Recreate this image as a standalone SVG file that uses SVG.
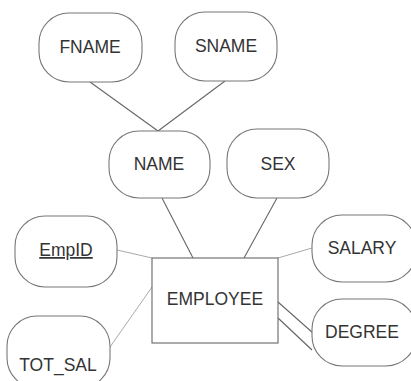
<svg xmlns="http://www.w3.org/2000/svg" width="411" height="381" viewBox="0 0 411 381">
<style>
.attr{fill:#fff;stroke:#777;stroke-width:1.1}
.ent{fill:#fff;stroke:#666;stroke-width:1.1}
text{font-family:"Liberation Sans",Arial,sans-serif;font-size:17.5px;fill:#333;text-anchor:middle}
.c{stroke:#666;stroke-width:1.1;fill:none}
.cl{stroke:#aaa;stroke-width:1;fill:none}
</style>
<rect width="411" height="381" fill="#fff"/>
<g id="connectors">
<line class="c" x1="90" y1="82" x2="158" y2="131"/>
<line class="c" x1="225" y1="81" x2="158" y2="131"/>
<line class="c" x1="162" y1="198" x2="193" y2="258"/>
<line class="c" x1="277" y1="198" x2="244" y2="258"/>
<line class="cl" x1="117" y1="250" x2="152" y2="258"/>
<line class="cl" x1="110" y1="347" x2="152" y2="287"/>
<line class="cl" x1="312" y1="248" x2="278" y2="258"/>
<line class="c" x1="278" y1="302" x2="313" y2="333"/>
<line class="c" x1="278" y1="318" x2="312" y2="350"/>
</g>
<g id="FNAME"><rect class="attr" x="39" y="13" width="103" height="69" rx="30"/><text x="90" y="53">FNAME</text></g>
<g id="SNAME"><rect class="attr" x="175" y="12" width="102" height="69" rx="30"/><text x="226" y="52">SNAME</text></g>
<g id="NAME"><rect class="attr" x="109" y="131" width="101" height="67" rx="30"/><text x="159" y="170">NAME</text></g>
<g id="SEX"><rect class="attr" x="227" y="129" width="102" height="69" rx="30"/><text x="278" y="170">SEX</text></g>
<g id="EmpID"><rect class="attr" x="15" y="216" width="102" height="71" rx="30"/><text x="66" y="256" text-decoration="underline">EmpID</text></g>
<g id="EMPLOYEE"><rect class="ent" x="152" y="258" width="126" height="85"/><text x="215" y="305">EMPLOYEE</text></g>
<g id="TOT_SAL"><rect class="attr" x="7" y="316" width="103" height="72" rx="30"/><text x="58" y="371">TOT_SAL</text></g>
<g id="SALARY"><rect class="attr" x="312" y="215" width="104" height="67" rx="30"/><text x="362" y="254">SALARY</text></g>
<g id="DEGREE"><rect class="attr" x="312" y="299" width="104" height="67" rx="30"/><text x="362" y="338">DEGREE</text></g>
</svg>
